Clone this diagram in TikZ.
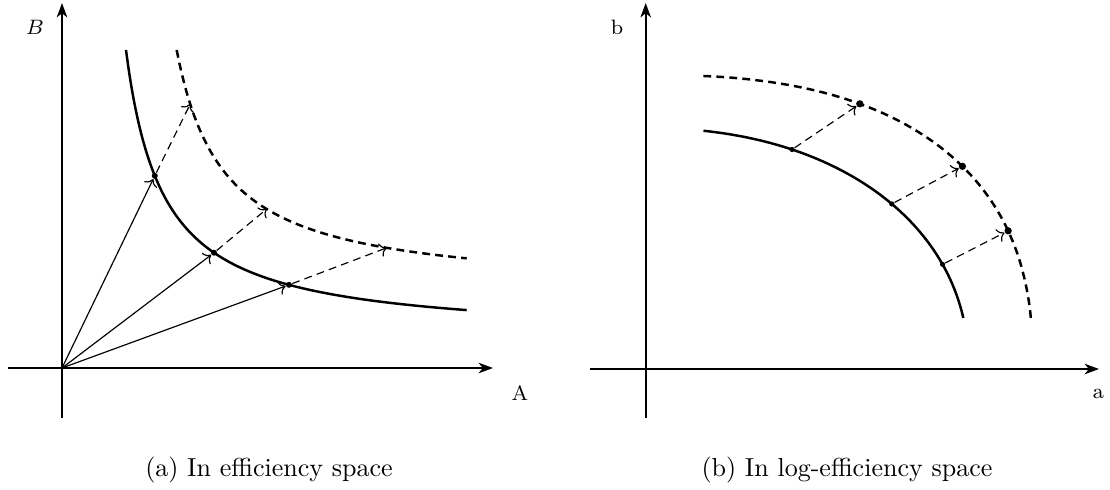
\documentclass[tikz,border=0pt]{standalone}
\usetikzlibrary{arrows.meta}
\begin{document}
\begin{tikzpicture}[x=0.384pt,y=-0.384pt,
  axis/.style={line width=0.85pt,-{Stealth[length=5.5pt,width=4pt,inset=1.6pt]}},
  curve/.style={line width=0.95pt},
  dcurve/.style={line width=0.95pt,dash pattern=on 3pt off 2pt},
  thinarrow/.style={line width=0.45pt,->},
  thindash/.style={line width=0.45pt,->,dash pattern=on 3pt off 2pt},
  dot/.style={circle,fill=black,inner sep=0pt,minimum size=2.3pt},
  smalldot/.style={circle,fill=black,inner sep=0pt,minimum size=2pt},
  bigdot/.style={circle,fill=black,inner sep=0pt,minimum size=2.8pt},
  lab/.style={anchor=base,font=\footnotesize,inner sep=0pt},
  captext/.style={anchor=base,inner sep=0pt}]
\useasboundingbox (0,0) rectangle (1110,489);
% ---------- left panel ----------
\coordinate (O) at (62,368);
\coordinate (xl0) at (8,368);
\coordinate (xl1) at (493,368);
\coordinate (yl0) at (62,418);
\coordinate (yl1) at (62,3);
\draw[axis] (xl0) -- (xl1);
\draw[axis] (yl0) -- (yl1);
\node[lab] (Alab) at (520,400) {A};
\node[lab] (Blab) at (35,34) {$B$};
\draw[curve] plot[domain=126:466.7,samples=120,smooth] (\x,{368-(10746/(\x-88.75)+29.5)});
\draw[dcurve] plot[domain=176.7:466.7,samples=120,smooth] (\x,{368-(11379/(\x-129.7)+75.9)});
\node[dot] (p1) at (154.8,175.8) {};
\node[dot] (p2) at (214,252.7) {};
\node[dot] (p3) at (289,284.8) {};
\coordinate (q1) at (190.2,104);
\coordinate (q2) at (266.7,209);
\coordinate (q3) at (386.7,247.8);
\draw[thinarrow] (O) -- (p1);
\draw[thinarrow] (O) -- (p2);
\draw[thinarrow] (O) -- (p3);
\draw[thindash] (p1) -- (q1);
\draw[thindash] (p2) -- (q2);
\draw[thindash] (p3) -- (q3);
\node[captext] (capa) at (269,476) {(a) In efficiency space};
% ---------- right panel ----------
\coordinate (xr0) at (590,369);
\coordinate (xr1) at (1099,369);
\coordinate (yr0) at (645.7,418);
\coordinate (yr1) at (645.7,3);
\draw[axis] (xr0) -- (xr1);
\draw[axis] (yr0) -- (yr1);
\node[lab] (alab) at (1098.5,398) {a};
\node[lab] (blab) at (617,34) {b};
\draw[curve] plot[domain=81.04:10.85,samples=100,variable=\t,smooth]
  ({645.7+323*pow(cos(\t),0.93)},{369-241*pow(sin(\t),0.93)});
\draw[dcurve] plot[domain=84.7:6.44,samples=100,variable=\t,smooth]
  ({645.7+387*pow(cos(\t),0.8)},{369-294*pow(sin(\t),0.8)});
\node[smalldot] (r1) at ({645.7+323*pow(cos(64.74),0.93)},{369-241*pow(sin(64.74),0.93)}) {};
\node[smalldot] (r2) at ({645.7+323*pow(cos(41.73),0.93)},{369-241*pow(sin(41.73),0.93)}) {};
\node[smalldot] (r3) at ({645.7+323*pow(cos(24.06),0.93)},{369-241*pow(sin(24.06),0.93)}) {};
\node[bigdot] (s1) at ({645.7+387*pow(cos(61.5),0.8)},{369-294*pow(sin(61.5),0.8)}) {};
\node[bigdot] (s2) at ({645.7+387*pow(cos(38.9),0.8)},{369-294*pow(sin(38.9),0.8)}) {};
\node[bigdot] (s3) at ({645.7+387*pow(cos(22.9),0.8)},{369-294*pow(sin(22.9),0.8)}) {};
\draw[thindash] (r1) -- (s1);
\draw[thindash] (r2) -- (s2);
\draw[thindash] (r3) -- (s3);
\node[captext] (capb) at (847,476) {(b) In log-efficiency space};
\end{tikzpicture}
\end{document}
